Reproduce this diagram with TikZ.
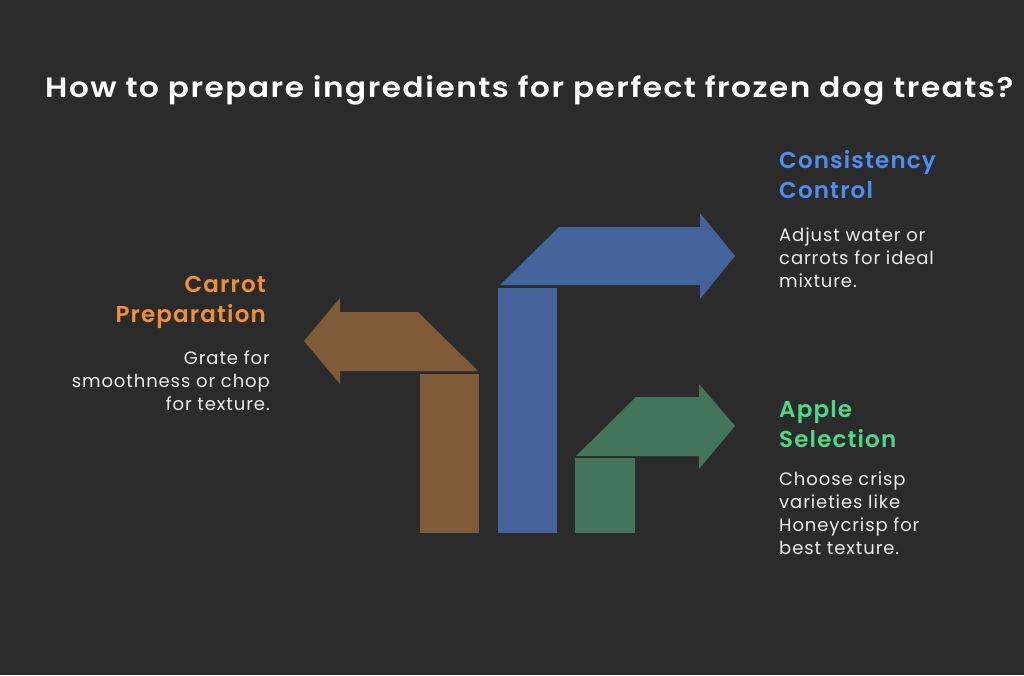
\documentclass[tikz,border=0pt]{standalone}
\usepackage{fontspec}
\setmainfont{Poppins}[LetterSpace=5]
\newfontfamily\headfont{Poppins SemiBold}[LetterSpace=5]
\newfontfamily\titlefont{Poppins SemiBold}[LetterSpace=5]
\definecolor{bg}{HTML}{2B2B2B}
\definecolor{cbrown}{HTML}{7F5B3A}
\definecolor{cblue}{HTML}{44639A}
\definecolor{cgreen}{HTML}{44755B}
\definecolor{torange}{HTML}{F0913A}
\definecolor{tblue}{HTML}{4F8EF0}
\definecolor{tgreen}{HTML}{4ED88A}
\definecolor{tbody}{HTML}{EDEDED}
\tikzset{
  headtxt/.style={inner sep=0pt, font=\headfont\fontsize{23}{30}\selectfont},
  bodytxt/.style={inner sep=0pt, text=tbody, font=\fontsize{18}{23}\selectfont},
}
\begin{document}
\begin{tikzpicture}[x=1pt,y=-1pt]
\fill[bg] (0,0) rectangle (1024,675);
\useasboundingbox (0,0) rectangle (1024,675);
% brown arrow
\fill[cbrown] (304,341) -- (340,298) -- (340,312) -- (418,312) -- (478,371) -- (340,371) -- (340,384) -- cycle;
\fill[cbrown] (420,374) rectangle (479,533);
% blue arrow
\fill[cblue] (735,256) -- (700,213) -- (700,227) -- (559,227) -- (500,285) -- (700,285) -- (700,299) -- cycle;
\fill[cblue] (498,288) rectangle (557,533);
% green arrow
\fill[cgreen] (735,426) -- (699,384) -- (699,397) -- (636,397) -- (576,456) -- (699,456) -- (699,469) -- cycle;
\fill[cgreen] (575,458) rectangle (635,533);
% title
\node[anchor=base west, inner sep=0pt, text=white, font=\titlefont\fontsize{28}{34}\selectfont] (title) at (45,97) {\scalebox{1.11}[1]{How to prepare ingredients for perfect frozen dog treats?}};
% consistency
\node[headtxt, text=tblue, anchor=north west, align=left] (cch) at (779,150) {Consistency\\Control};
\node[bodytxt, anchor=north west, align=left] (ccb) at (779,228) {Adjust water or\\carrots for ideal\\mixture.};
% carrot
\node[headtxt, text=torange, anchor=north east, align=right] (cph) at (266,276) {Carrot\\Preparation};
\node[bodytxt, anchor=north east, align=right] (cpb) at (270,351) {Grate for\\smoothness or chop\\for texture.};
% apple
\node[headtxt, text=tgreen, anchor=north west, align=left] (ash) at (779,400) {Apple\\Selection};
\node[bodytxt, anchor=north west, align=left] (asb) at (779,472) {Choose crisp\\varieties like\\Honeycrisp for\\best texture.};
\end{tikzpicture}
\end{document}
